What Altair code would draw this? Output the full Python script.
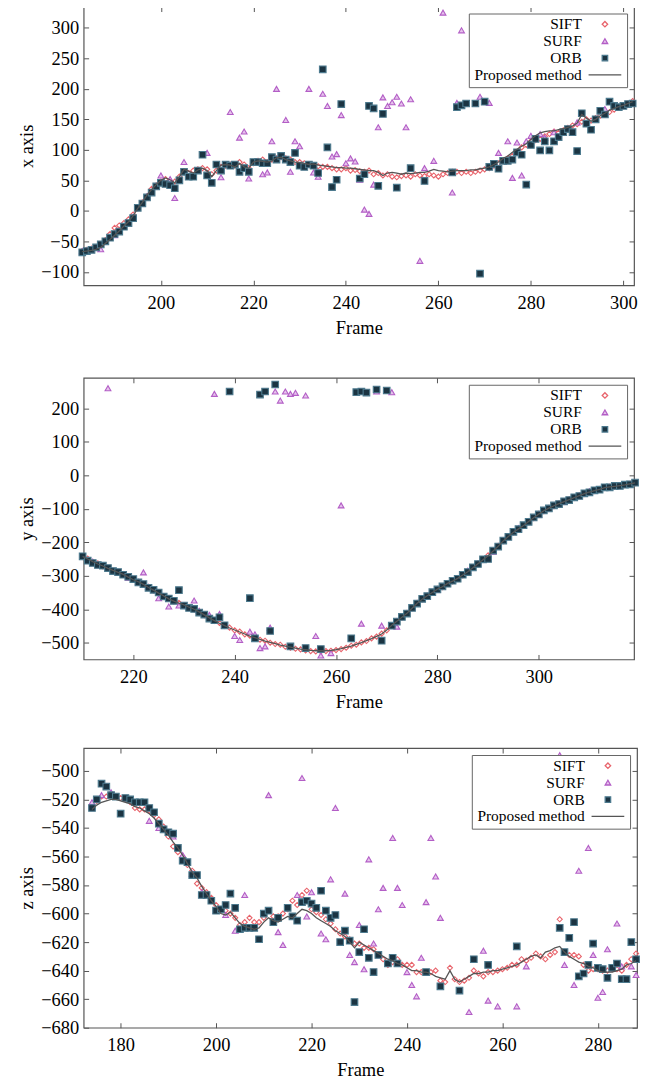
import altair as alt
import pandas as pd

METHODS = ["SIFT", "SURF", "ORB", "Proposed method"]
SHAPES = ["diamond", "triangle-up", "square", "M-6,0L6,0"]
FILLS = ["transparent", "#e6c3ec", "#1b3442", "transparent"]
STROKES = ["#e8646c", "#b35ec6", "#4d7a8e", "#555555"]
FONT = "Liberation Serif"

# ---------------- panel 1 : x axis ----------------
X_FRAMES = list(range(183, 303))
X_LINE = [-67, -66, -65, -63, -60, -53, -47, -40, -33, -25,
          -18, -8, 4, 14, 26, 35, 43, 50, 54, 51,
          46, 56, 68, 65, 62, 67, 70, 66, 56, 66,
          75, 76, 75, 72, 78, 72, 70, 80, 82, 81,
          80, 82, 87, 88, 84, 82, 80, 79, 78, 76,
          77, 75, 74, 73, 72, 71, 71, 70, 70, 69,
          68, 67, 66, 66, 63, 58, 62, 63, 62, 60,
          62, 61, 62, 63, 63, 65, 68, 66, 65, 64,
          65, 66, 66, 66, 67, 67, 69, 70, 72, 76,
          80, 86, 90, 96, 101, 106, 110, 117, 123, 128,
          130, 131, 131, 133, 135, 137, 139, 144, 158, 152,
          147, 150, 156, 160, 165, 168, 171, 173, 176, 179]
X_SIFT = [-66, -64, -62, -60, -56, -48, -38, -28, -24, -20,
          -14, -6, 4, 14, 24, 36, 42, 48, 52, 49,
          48, 56, 64, 62, 66, 68, 70, 68, 60, 66,
          72, 74, 76, 74, 80, 76, 70, 78, 82, 84,
          80, 84, 86, 88, 86, 84, 80, 80, 78, 76,
          74, 73, 72, 72, 70, 68, 68, 70, 66, 67,
          65, 64, 66, 60, 62, 58, 60, 56, 55, 57,
          58, 56, 60, 58, 57, 60, 58, 56, 60, 62,
          64, 64, 62, 64, 62, 64, 66, 68, 70, 74,
          78, 82, 86, 90, 96, 104, 108, 114, 116, 118,
          122, 126, 130, 128, 132, 136, 140, 142, 146, 150,
          148, 152, 156, 158, 162, 166, 170, 172, 176, 180]
X_ORB = [-68, -66, -64, -60, -55, -50, -44, -38, -34, -26,
         -20, -12, 5, 12, 22, 30, 40, 46, 44, 42,
         37, 50, 64, 56, 56, 66, 92, 58, 46, 76,
         66, 76, 74, 76, 64, 70, 64, 80, 80, 78,
         78, 88, 84, 90, 84, 80, 95, 74, 72, 76,
         74, 62, 232, 104, 39, 51, 175, None, None, None,
         53, 60, 172, 168, 41, 159, None, None, 38, None,
         None, 70, None, None, 49, None, None, None, None, None,
         63, 170, 173, 176, None, 176, -103, 179, 72, 77,
         69, 82, 82, 84, 96, 92, 43, 108, 118, 99,
         114, 99, 114, 121, 129, 134, 129, 98, 160, 143,
         133, 150, 164, 158, 179, 172, 170, 172, 175, 176]
X_SURF_F = [183, 187, 190, 194, 197, 200, 202, 203, 205, 208, 210, 213, 215, 217, 218,
            219, 222, 223, 224, 225, 227, 228, 229, 230, 232, 233, 234, 235, 236, 237,
            238, 239, 240, 241, 242, 243, 244, 245, 246, 247, 248, 249, 250, 251, 252,
            253, 254, 256, 257, 259, 261, 263, 264, 265, 269, 271, 273, 275, 276, 277,
            278, 279, 280, 282, 283, 285, 290, 296, 300]
X_SURF_V = [-66, -63, -40, -10, 24, 58, 52, 21, 80, 66, 95, 55, 162, 120, 130,
            53, 60, 63, 114, 200, 149, 64, 114, 106, 200, 63, 56, 192, 172, 89,
            93, 157, 78, 86, 81, 51, 2, -5, 43, 137, 186, 172, 178, 187, 176,
            137, 183, -82, 70, 82, 325, 30, 177, 296, 187, 177, 95, 114, 54, 112,
            58, 114, 123, 126, 120, 129, 145, 167, 172]

# ---------------- panel 2 : y axis ----------------
Y_FRAMES = list(range(210, 320))
Y_LINE = [-242, -250, -258, -265, -271, -278, -284, -290, -296, -304,
          -312, -318, -326, -335, -343, -352, -360, -369, -376, -382,
          -387, -394, -400, -408, -417, -426, -434, -442, -449, -456,
          -462, -468, -474, -480, -485, -490, -495, -499, -503, -507,
          -510, -513, -516, -519, -521, -523, -524, -524, -524, -523,
          -521, -518, -514, -510, -505, -500, -494, -488, -481, -474,
          -462, -448, -436, -424, -412, -397, -382, -370, -360, -350,
          -340, -333, -323, -316, -308, -298, -288, -276, -264, -252,
          -240, -226, -212, -196, -183, -170, -160, -150, -138, -127,
          -116, -106, -98, -91, -85, -79, -73, -67, -61, -55,
          -50, -46, -42, -37, -35, -33, -31, -29, -26, -23]
Y_SIFT = [-244, -249, -259, -263, -272, -277, -285, -291, -295, -305,
          -311, -319, -327, -334, -344, -351, -361, -368, -377, -381,
          -388, -393, -401, -407, -418, -425, -435, -441, -450, -455,
          -463, -467, -475, -479, -486, -491, -494, -500, -504, -506,
          -512, -515, -518, -520, -523, -525, -526, -526, -525, -524,
          -522, -519, -515, -509, -506, -499, -495, -487, -482, -473,
          -463, -449, -435, -425, -411, -398, -381, -371, -359, -351,
          -339, -334, -322, -317, -307, -299, -287, -277, -263, -253,
          -239, -227, -211, -197, -182, -171, -159, -151, -137, -128,
          -115, -107, -97, -92, -84, -80, -72, -68, -60, -56,
          -49, -47, -41, -38, -34, -34, -30, -30, -25, -24]
Y_ORB = [-242, -255, -262, -268, -270, -277, -286, -289, -297, -303,
         -310, -320, -325, -336, -342, -350, -362, -368, -375, -343,
         -389, -396, -399, -410, -416, -428, -433, -424, -448, 250,
         None, None, None, -367, -487, 241, 250, -465, 271, None,
         None, -511, None, None, -516, None, None, -519, None, None,
         None, None, None, -487, 248, 250, 247, None, 256, -494,
         253, -449, -437, -423, -413, -396, -383, -369, -361, -349,
         -341, -332, -324, -315, -309, -297, -289, -275, -265, -251,
         -250, -225, -213, -195, -184, -169, -161, -149, -139, -126,
         -117, -105, -99, -90, -86, -78, -74, -66, -62, -54,
         -51, -45, -43, -36, -36, -32, -32, -28, -27, -22]
Y_SURF_F = [212, 215, 217, 219, 221, 222, 223, 225, 226, 227, 229, 230, 232, 233, 235,
            236, 237, 238, 240, 241, 243, 244, 245, 246, 247, 248, 249, 250, 251, 252,
            254, 256, 257, 259, 261, 265, 268, 269, 271, 272, 275, 280, 286, 291, 296,
            300, 305, 310, 315]
Y_SURF_V = [-258, 260, -290, -306, -318, -290, -333, -367, -362, -392, -389, -390, -374, -405, -417,
            243, -414, -450, -480, -492, -467, -475, -516, -511, -455, 250, 223, 250, 243, 246,
            238, -480, -538, -531, -90, -443, 250, -449, 248, -452, -395, -342, -285, -228, -158,
            -118, -80, -48, -32]

# ---------------- panel 3 : z axis ----------------
Z_FRAMES = list(range(174, 289))
Z_LINE = [-527, -524, -522, -521, -520, -520, -521, -522, -523, -525,
          -526, -528, -530, -533, -537, -541, -545, -550, -554, -559,
          -565, -571, -575, -581, -586, -591, -595, -600, -601, -599,
          -603, -607, -609, -610, -611, -610, -606, -603, -605, -606,
          -604, -602, -603, -600, -597, -598, -600, -603, -605, -607,
          -609, -612, -614, -616, -620, -624, -620, -622, -624, -626,
          -628, -630, -632, -633, -635, -636, -638, -640, -640, -641,
          -641, -642, -644, -645, -646, -640, -646, -648, -646, -644,
          -642, -642, -641, -641, -640, -640, -639, -638, -637, -636,
          -634, -632, -630, -629, -631, -627, -626, -624, -623, -627,
          -630, -632, -634, -635, -637, -638, -640, -641, -641, -641,
          -640, -639, -636, -635, -633]
Z_SIFT = [-526, -521, -518, -518, -517, -518, -519, -520, -522, -526,
          -527, -527, -528, -531, -534, -539, -546, -553, -557, -560,
          -566, -570, -579, -582, -585, -589, -594, -597, -598, -600,
          -603, -608, -606, -603, -606, -606, -603, -598, -602, -602,
          -600, -597, -591, -594, -587, -584, -597, -599, -601, -604,
          -607, -611, -614, -616, -618, -621, -621, -624, -624, -625,
          -629, -632, -636, -634, -632, -636, -636, -636, -641, -641,
          -641, -641, -640, -647, -648, -638, -646, -648, -647, -645,
          -640, -642, -644, -641, -641, -640, -639, -638, -636, -636,
          -632, -633, -631, -628, -630, -632, -629, -627, -604, -627,
          -629, -629, -630, -636, -640, -639, -639, -640, -640, -639,
          -639, -640, -636, -632, -628]
Z_ORB = [-526, -520, -509, -511, -517, -518, -530, -519, -520, -522,
         -522, -522, -526, -529, -537, -541, -543, -544, -554, -563,
         -564, -573, -573, -587, -587, -591, -598, -597, -594, -586,
         -596, -611, -610, -610, -610, -618, -600, -598, -606, -603,
         None, -596, -602, -605, -592, -591, -593, -596, -584, -598,
         -603, -601, -620, -612, -619, -662, -627, -611, -631, -641,
         -629, None, -635, -631, -635, None, None, None, None, None,
         -641, None, None, -651, None, None, None, -654, None, None,
         -632, None, None, -636, None, None, None, None, None, -623,
         None, None, None, None, None, None, None, None, -610, -627,
         -617, -606, -644, -642, -636, -621, -638, -639, -645, -638,
         -635, -646, -646, -620, -632]
Z_SURF_F = [174, 176, 178, 186, 188, 191, 193, 195, 197, 200, 202, 204, 206, 211, 213,
            214, 217, 218, 219, 220, 222, 223, 224, 225, 227, 228, 229, 230, 231, 232,
            233, 234, 235, 237, 238, 239, 240, 241, 242, 243, 244, 245, 246, 247, 253,
            256, 257, 259, 263, 265, 272, 273, 275, 276, 278, 279, 280, 281, 282, 284,
            285, 287, 288]
Z_SURF_V = [-522, -517, -515, -535, -540, -546, -559, -572, -585, -598, -601, -612, -587, -517, -613,
            -622, -587, -505, -602, -585, -614, -618, -576, -526, -586, -629, -634, -608, -639, -562,
            -621, -597, -582, -547, -582, -594, -641, -650, -658, -631, -592, -547, -574, -603, -669,
            -626, -661, -665, -665, -637, -489, -636, -650, -570, -554, -629, -659, -655, -625, -607,
            -637, -637, -643]

# two em spaces, closed by a zero-width space so that they are not trimmed away
LABEL_EXPR = "datum.label + '\u2003\u2003\u200b'"


def series_df(frames, values, method):
    rows = [(f, v, method) for f, v in zip(frames, values) if v is not None]
    return pd.DataFrame(rows, columns=["frame", "value", "method"])


def enc_scales():
    lg = alt.Legend(title=None, labelExpr=LABEL_EXPR)
    return dict(
        shape=alt.Shape("method:N", scale=alt.Scale(domain=METHODS, range=SHAPES), legend=lg),
        fill=alt.Fill("method:N", scale=alt.Scale(domain=METHODS, range=FILLS), legend=lg),
        stroke=alt.Stroke("method:N", scale=alt.Scale(domain=METHODS, range=STROKES), legend=lg),
    )


def panel(frames, line, sift, orb, surf_f, surf_v, xdom, ydom, xticks, yticks,
          ytitle, w, h):
    xs = alt.Scale(domain=xdom, nice=False, zero=False)
    ys = alt.Scale(domain=ydom, nice=False, zero=False)
    fnt = dict(labelFont=FONT, titleFont=FONT, labelFontSize=18.5, titleFontSize=18.5,
               labelColor="#000000", titleColor="#000000", titleFontWeight="normal")
    x_main = alt.Axis(orient="bottom", values=xticks, title="Frame", offset=-5, tickSize=5,
                      domain=False, labelPadding=8, titlePadding=7, format="d", **fnt)
    y_main = alt.Axis(orient="left", values=yticks, title=ytitle, offset=-5, tickSize=5,
                      domain=False, labelPadding=5, titlePadding=4, format="d", **fnt)
    x_top = alt.Axis(orient="top", values=xticks, title=None, labels=False, offset=-5,
                     tickSize=5, domain=False)
    y_right = alt.Axis(orient="right", values=yticks, title=None, labels=False, offset=-5,
                       tickSize=5, domain=False)

    def pts(df, size, xa, ya):
        return alt.Chart(df).mark_point(filled=True, opacity=1, strokeWidth=1.1, size=size).encode(
            x=alt.X("frame:Q", scale=xs, axis=xa),
            y=alt.Y("value:Q", scale=ys, axis=ya),
            **enc_scales(),
        )

    l_sift = pts(series_df(frames, sift, "SIFT"), 26, x_main, y_main)
    l_surf = pts(series_df(surf_f, surf_v, "SURF"), 34, None, None)
    l_orb = pts(series_df(frames, orb, "ORB"), 44, None, None)
    l_line = alt.Chart(series_df(frames, line, "Proposed method")).mark_line(
        color="#555555", strokeWidth=1.3).encode(
        x=alt.X("frame:Q", scale=xs, axis=x_top),
        y=alt.Y("value:Q", scale=ys, axis=y_right),
    )
    return alt.layer(l_sift, l_surf, l_orb, l_line).resolve_axis(
        x="independent", y="independent").properties(width=w, height=h)


p1 = panel(X_FRAMES, X_LINE, X_SIFT, X_ORB, X_SURF_F, X_SURF_V,
           [183.3, 302.3], [-122, 335], [200, 220, 240, 260, 280, 300],
           [-100, -50, 0, 50, 100, 150, 200, 250, 300], "x axis", 553, 280)
p2 = panel(Y_FRAMES, Y_LINE, Y_SIFT, Y_ORB, Y_SURF_F, Y_SURF_V,
           [210.2, 318.8], [-550, 291], [220, 240, 260, 280, 300],
           [-500, -400, -300, -200, -100, 0, 100, 200], "y axis", 553, 283)
p3 = panel(Z_FRAMES, Z_LINE, Z_SIFT, Z_ORB, Z_SURF_F, Z_SURF_V,
           [172.25, 288.2], [-680, -484], [180, 200, 220, 240, 260, 280],
           [-680, -660, -640, -620, -600, -580, -560, -540, -520, -500], "z axis", 556, 281)

indep = dict(shape="independent", fill="independent", stroke="independent")
top = alt.vconcat(p1, p2, spacing=38).resolve_scale(**indep).resolve_legend(**indep)
chart = alt.vconcat(top, p3, spacing=34).resolve_scale(**indep).resolve_legend(**indep)

chart = chart.properties(padding={"left": 9, "top": -6, "right": 0, "bottom": 0}).configure_view(
    stroke="#555555", strokeWidth=1.2
).configure_axis(
    labelFont=FONT, labelFontSize=18.5, labelColor="#000000",
    titleFont=FONT, titleFontSize=18.5, titleFontWeight="normal", titleColor="#000000",
    tickColor="#555555", tickWidth=1, grid=False
).configure_legend(
    orient="top-right", offset=7, padding=3, strokeColor="#666666", fillColor="#ffffff",
    labelFont=FONT, labelFontSize=15.5, labelColor="#000000", symbolSize=30,
    symbolStrokeWidth=1.3, rowPadding=0, labelAlign="right", labelOffset=0,
    symbolOffset=126, cornerRadius=0
)

chart.save("out.html", embed_options={"renderer": "svg", "actions": False})
